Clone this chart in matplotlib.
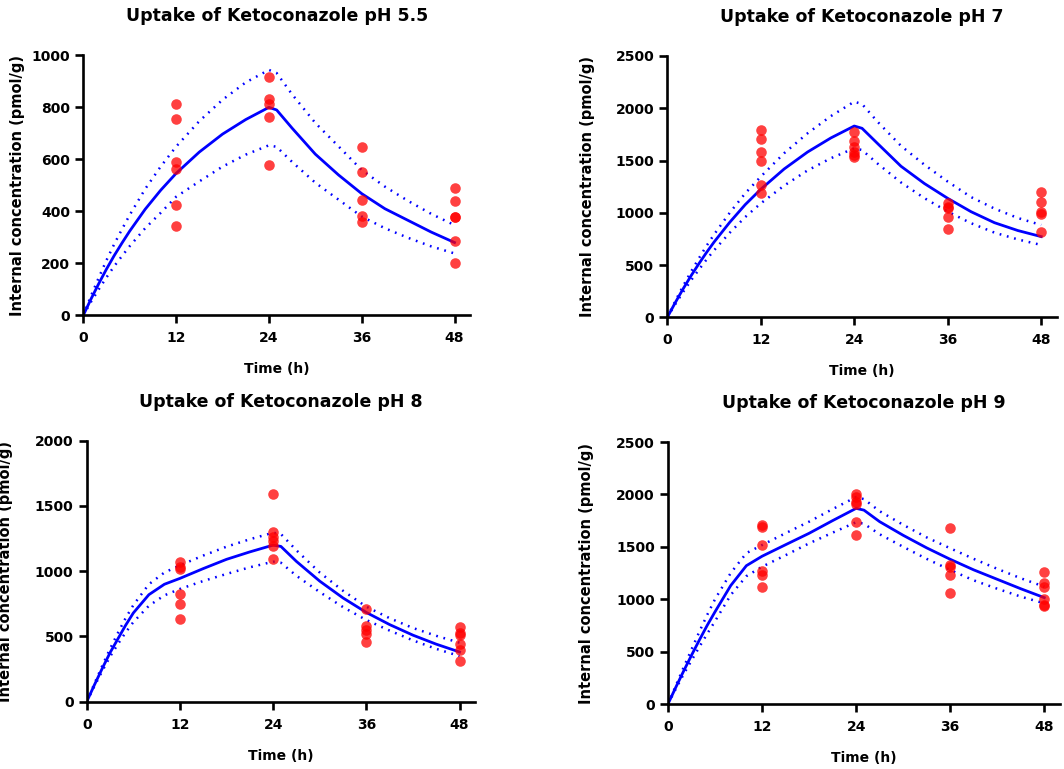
import matplotlib
matplotlib.use("Agg")
import matplotlib.pyplot as plt

plt.rcParams['font.family'] = ['DejaVu Sans']
plt.rcParams['font.weight'] = 'bold'

# sampling times of the measurements (h)
sample_times = [12, 24, 36, 48]

# measured internal concentrations (pmol/g), one list per sampling time
obs_55 = [[811, 754, 588, 564, 423, 345],
          [917, 831, 811, 762, 578],
          [646, 553, 445, 383, 360],
          [490, 440, 379, 378, 286, 200]]
obs_7 = [[1792, 1703, 1584, 1498, 1266, 1185],
         [1770, 1690, 1626, 1585, 1553, 1531],
         [1091, 1059, 1043, 963, 842],
         [1196, 1100, 1011, 989, 813]]
obs_8 = [[1068, 1034, 1016, 828, 746, 633],
         [1591, 1300, 1259, 1234, 1195, 1093],
         [713, 582, 549, 521, 457],
         [570, 524, 513, 444, 396, 314]]
obs_9 = [[1705, 1686, 1514, 1272, 1234, 1113],
         [2004, 1972, 1931, 1909, 1734, 1613],
         [1683, 1326, 1311, 1234, 1056],
         [1263, 1152, 1120, 999, 945, 932]]

# fitted curve and its confidence band
curve_t = [0, 1, 2, 3, 4, 5, 6, 8, 10, 12, 15, 18, 21, 24, 25, 27, 30, 33, 36, 39, 42, 45, 48]

fit_55 = [0, 63, 122, 178, 230, 278, 324, 408, 481, 546, 628, 697, 753, 800, 790, 720, 620, 540, 468, 410, 365, 320, 280]
up_55 = [0, 75, 145, 212, 274, 331, 386, 486, 572, 649, 747, 829, 896, 944, 932, 850, 740, 650, 559, 495, 440, 390, 347]
lo_55 = [0, 52, 100, 146, 189, 228, 266, 335, 394, 456, 515, 572, 618, 654, 648, 590, 510, 445, 380, 335, 298, 265, 238]

fit_7 = [0, 138, 269, 392, 507, 617, 720, 908, 1078, 1225, 1419, 1581, 1716, 1830, 1808, 1662, 1445, 1280, 1138, 1010, 905, 830, 772]
up_7 = [0, 152, 296, 431, 558, 680, 792, 999, 1186, 1346, 1570, 1760, 1925, 2063, 2040, 1870, 1640, 1460, 1298, 1150, 1040, 950, 883]
lo_7 = [0, 123, 239, 349, 451, 549, 641, 808, 959, 1090, 1260, 1405, 1522, 1617, 1600, 1470, 1290, 1140, 1011, 900, 810, 745, 692]

fit_8 = [0, 130, 255, 375, 480, 585, 680, 820, 900, 945, 1020, 1091, 1148, 1200, 1190, 1075, 924, 795, 684, 591, 510, 441, 381]
up_8 = [0, 140, 275, 405, 525, 640, 740, 900, 990, 1045, 1120, 1188, 1245, 1295, 1285, 1160, 990, 850, 728, 640, 565, 505, 452]
lo_8 = [0, 120, 235, 345, 440, 530, 610, 735, 815, 864, 925, 979, 1030, 1073, 1065, 965, 840, 725, 626, 545, 470, 405, 350]

fit_9 = [0, 160, 315, 465, 610, 750, 880, 1130, 1320, 1410, 1520, 1629, 1750, 1867, 1850, 1740, 1610, 1490, 1381, 1280, 1190, 1100, 1015]
up_9 = [0, 175, 350, 520, 690, 850, 1000, 1250, 1440, 1517, 1630, 1740, 1860, 1975, 1955, 1840, 1710, 1590, 1486, 1385, 1290, 1200, 1120]
lo_9 = [0, 145, 285, 415, 545, 670, 790, 1040, 1220, 1310, 1420, 1533, 1635, 1735, 1720, 1620, 1500, 1385, 1279, 1180, 1100, 1025, 961]

x_ticks = [0, 12, 24, 36, 48]

fig = plt.figure(figsize=(10.64, 7.69), dpi=100)


def draw_panel(rect, title, obs, fit, up, lo, ymax, ystep, ylab_x):
    ax = fig.add_axes(rect)
    dotted = (0, (0.7, 2.3))
    ax.plot(curve_t, up, color='#0000ff', lw=1.8, ls=dotted, dash_capstyle='butt')
    ax.plot(curve_t, lo, color='#0000ff', lw=1.8, ls=dotted, dash_capstyle='butt')
    ax.plot(curve_t, fit, color='#0000ff', lw=2.0)
    for t, vals in zip(sample_times, obs):
        ax.plot([t] * len(vals), vals, 'o', color='red', alpha=0.75,
                markersize=7.6, markeredgewidth=0, clip_on=False, zorder=5)

    ax.set_xlim(0, 50)
    ax.set_ylim(0, ymax)
    ax.set_xticks(x_ticks)
    ax.set_yticks(range(0, ymax + 1, ystep))
    for s in ['top', 'right']:
        ax.spines[s].set_visible(False)
    for s in ['left', 'bottom']:
        ax.spines[s].set_linewidth(1.9)
    ax.tick_params(width=1.9, length=5.5, labelsize=10)
    ax.tick_params(axis='x', pad=6)
    ax.tick_params(axis='y', pad=4)

    ax.set_xlabel('Time (h)', fontsize=10, fontweight='bold', va='baseline')
    ax.xaxis.set_label_coords(0.5, -58 / (rect[3] * 769))
    ax.set_ylabel('Internal concentration (pmol/g)', fontsize=10.5,
                  fontweight='bold', va='baseline')
    ax.yaxis.set_label_coords(ylab_x, 0.5)

    ax.annotate(title, xy=(0.5, 1), xycoords='axes fraction',
                xytext=(0, 24.5), textcoords='offset points',
                ha='center', va='baseline', fontsize=12.5, fontweight='bold')
    return ax


draw_panel([0.0783, 0.590, 0.3634, 0.338], 'Uptake of Ketoconazole pH 5.5',
           obs_55, fit_55, up_55, lo_55, 1000, 200, -0.159)
draw_panel([0.6272, 0.5874, 0.366, 0.3398], 'Uptake of Ketoconazole pH 7',
           obs_7, fit_7, up_7, lo_7, 2500, 500, -0.194)
draw_panel([0.0815, 0.0875, 0.365, 0.3394], 'Uptake of Ketoconazole pH 8',
           obs_8, fit_8, up_8, lo_8, 2000, 500, -0.1975)
draw_panel([0.6278, 0.0845, 0.3684, 0.3407], 'Uptake of Ketoconazole pH 9',
           obs_9, fit_9, up_9, lo_9, 2500, 500, -0.197)

fig.savefig('out.png', dpi=100)
